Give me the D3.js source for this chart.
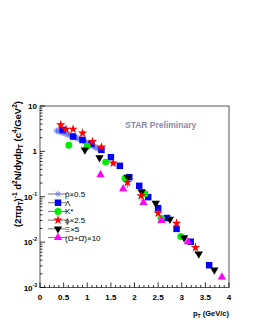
<!DOCTYPE html>
<html>
<head>
<meta charset="utf-8">
<script src="https://cdn.jsdelivr.net/npm/d3@7"></script>
<style>
  body { margin: 0; background: #fff; }
  svg { font-family: "Liberation Sans", Arial, sans-serif; font-weight: bold; }
</style>
</head>
<body>
<svg id="canvas"></svg>
<script>
// pbar x0.5
let pbarX = [0.35,0.38,0.41,0.44,0.47,0.50,0.53,0.56,0.59,0.62,0.65,0.68,0.71,0.74,0.77,0.80,0.83,0.86,0.89,0.92,0.95,0.98,1.01,1.04,1.07,1.10,1.13,1.16,1.19,1.22]
let pbarY = [2.85,2.80,2.78,2.70,2.62,2.60,2.50,2.45,2.38,2.30,2.25,2.18,2.12,2.05,2.00,1.95,1.88,1.82,1.76,1.70,1.64,1.58,1.52,1.47,1.42,1.37,1.30,1.25,1.20,1.15]
// Lambda
let lamX = [0.48,0.70,0.90,1.09,1.30,1.50,1.69,1.89,2.10,2.29,2.50,2.69,2.89,3.19,3.58]
let lamY = [2.97,2.12,1.79,1.46,1.08,0.745,0.48,0.27,0.174,0.098,0.056,0.034,0.0196,0.0102,0.0031]
// K*
let kstX = [0.61,1.00,1.39,1.80,2.22,2.57,2.98]
let kstY = [1.37,1.30,0.58,0.257,0.116,0.033,0.0133]
// phi x2.5
let phiX = [0.44,0.55,0.70,0.90,1.11,1.30,1.55,1.85,2.14,2.50,2.89,3.29]
let phiY = [3.83,3.08,3.08,2.52,1.64,1.24,0.55,0.206,0.105,0.0435,0.026,0.0076]
let phiErr = [0.6,0.3,0.3,0.2,0.15,0.1,0.08,0.05,0.025,0.012,0.005,0.002]
// Xi x5
let xiX = [0.95,1.26,1.86,2.15,2.45,2.75,3.05,3.36,3.69]
let xiY = [1.08,0.73,0.27,0.13,0.072,0.032,0.0126,0.0055,0.00245]
// (Omega+antiOmega) x10
let omX = [1.28,1.76,2.19,2.57,3.13,3.85]
let omY = [0.303,0.149,0.0745,0.030,0.0102,0.0017]

let xTicks = [0, 0.5, 1, 1.5, 2, 2.5, 3, 3.5, 4]
let yDecades = [1e-3, 1e-2, 1e-1, 1, 10]

let width = 255
let height = 330
let padL = 40, padR = 229, padT = 106, padB = 287.5

let canvas = d3.select('#canvas')
               .attr('width', width)
               .attr('height', height)

let xScale = d3.scaleLinear().domain([0, 4]).range([padL, padR])
let yScale = d3.scaleLog().domain([1e-3, 10]).range([padB, padT])

// frame
canvas.append('rect')
      .attr('x', padL).attr('y', padT)
      .attr('width', padR - padL).attr('height', padB - padT)
      .attr('fill', 'none').attr('stroke', '#555').attr('stroke-width', 1)

// x axis ticks (inside)
let xMinor = d3.range(0, 4.001, 0.1)
canvas.append('g').selectAll('line')
      .data(xMinor)
      .enter().append('line')
      .attr('x1', d => xScale(d)).attr('x2', d => xScale(d))
      .attr('y1', padB)
      .attr('y2', (d, i) => padB - (i % 5 == 0 ? 5 : 2.5))
      .attr('stroke', '#000').attr('stroke-width', 0.8)

canvas.append('g').selectAll('text')
      .data(xTicks)
      .enter().append('text')
      .attr('x', d => xScale(d))
      .attr('y', 300)
      .attr('text-anchor', 'middle')
      .attr('font-size', 8)
      .text(d => d)

// y axis ticks (inside, log)
let yMinor = []
yDecades.forEach(dec => {
  if (dec < 10) {
    for (let m = 1; m < 10; m++) yMinor.push({v: dec * m, major: m == 1})
  } else {
    yMinor.push({v: dec, major: true})
  }
})
canvas.append('g').selectAll('line')
      .data(yMinor)
      .enter().append('line')
      .attr('y1', d => yScale(d.v)).attr('y2', d => yScale(d.v))
      .attr('x1', padL)
      .attr('x2', d => padL + (d.major ? 5 : 2.5))
      .attr('stroke', '#000').attr('stroke-width', 0.8)

let yLab = canvas.append('g').selectAll('text')
      .data(yDecades)
      .enter().append('text')
      .attr('x', 37)
      .attr('y', d => yScale(d) + 3)
      .attr('text-anchor', 'end')
      .attr('font-size', 8)
yLab.append('tspan').text(d => d == 1 ? '1' : '10')
yLab.filter(d => d < 1).append('tspan')
    .attr('dy', -4).attr('font-size', 5)
    .text(d => Math.round(Math.log10(d)))

// axis titles
let yt = canvas.append('text')
      .attr('transform', 'translate(21,101) rotate(-90)')
      .attr('text-anchor', 'end')
      .attr('font-size', 9.5)
let parts = [['(2πp',0],['T',1],[')',0],['-1',2],[' d',0],['2',2],['N/dydp',0],['T',1],[' (c',0],['4',2],['/GeV',0],['2',2],[')',0]]
let shift = 0
parts.forEach(p => {
  let target = p[1] == 1 ? 2 : (p[1] == 2 ? -4 : 0)
  yt.append('tspan')
    .attr('dy', target - shift)
    .attr('font-size', p[1] == 0 ? 9.5 : 6.5)
    .text(p[0])
  shift = target
})

let xt = canvas.append('text')
      .attr('x', 229).attr('y', 316)
      .attr('text-anchor', 'end')
      .attr('font-size', 7.5)
xt.append('tspan').text('p')
xt.append('tspan').attr('dy', 2).attr('font-size', 5).text('T')
xt.append('tspan').attr('dy', -2).text(' (GeV/c)')

canvas.append('text')
      .attr('x', 125).attr('y', 128)
      .attr('font-size', 8.5)
      .attr('fill', '#8a8aa8')
      .text('STAR Preliminary')

// marker helpers
let star = d3.symbol().type(d3.symbolStar).size(28)
let square = d3.symbol().type(d3.symbolSquare).size(42)
let circle = d3.symbol().type(d3.symbolCircle).size(38)
let tri = d3.symbol().type(d3.symbolTriangle).size(30)

let drawAsterisk = (g, x, y) => {
  let r = 3.2
  for (let a = 0; a < 4; a++) {
    let ang = a * Math.PI / 4
    g.append('line')
     .attr('x1', x - r * Math.cos(ang)).attr('y1', y - r * Math.sin(ang))
     .attr('x2', x + r * Math.cos(ang)).attr('y2', y + r * Math.sin(ang))
     .attr('stroke', '#6a78f0').attr('stroke-width', 0.8)
  }
}

let plot = canvas.append('g')

// pbar asterisks
let pbarG = plot.append('g')
pbarX.forEach((x, i) => drawAsterisk(pbarG, xScale(x), yScale(pbarY[i])))

// phi error bars
plot.append('g').selectAll('line')
    .data(phiX)
    .enter().append('line')
    .attr('x1', d => xScale(d)).attr('x2', d => xScale(d))
    .attr('y1', (d, i) => yScale(phiY[i] + phiErr[i]))
    .attr('y2', (d, i) => yScale(Math.max(phiY[i] - phiErr[i], 1e-3)))
    .attr('stroke', '#777').attr('stroke-width', 0.8)

let drawSeries = (xs, ys, sym, color, rot) => {
  plot.append('g').selectAll('path')
      .data(xs)
      .enter().append('path')
      .attr('d', sym)
      .attr('transform', (d, i) => `translate(${xScale(d)},${yScale(ys[i])})` + (rot ? ' rotate(180)' : ''))
      .attr('fill', color)
}

drawSeries(lamX, lamY, square, '#0000ff', false)
drawSeries(kstX, kstY, circle, '#00ee00', false)
drawSeries(xiX, xiY, tri, '#000', true)
drawSeries(omX, omY, tri, '#ff00ff', false)
drawSeries(phiX, phiY, star, '#ff0000', false)

// legend
let legNames = ['p\u0304×0.5', 'Λ', 'K*', 'ϕ×2.5', 'Ξ×5', '(Ω+Ω\u0304)×10']
let legSyms = ['ast', square, circle, star, tri, tri]
let legCols = ['#6a78f0', '#0000ff', '#00ee00', '#ff0000', '#000', '#ff00ff']
let legG = canvas.append('g')
legNames.forEach((name, i) => {
  let y = 194 + i * 8.7
  legG.append('line').attr('x1', 48).attr('x2', 66).attr('y1', y).attr('y2', y)
      .attr('stroke', '#555').attr('stroke-width', 0.8)
  if (legSyms[i] == 'ast') {
    drawAsterisk(legG, 58, y)
  } else {
    legG.append('path').attr('d', legSyms[i])
        .attr('transform', `translate(58,${y})` + (i == 4 ? ' rotate(180)' : ''))
        .attr('fill', legCols[i])
  }
  legG.append('text').attr('x', 65).attr('y', y + 3)
      .attr('font-size', 8).attr('font-weight', 'normal')
      .text(name)
})
</script>
</body>
</html>
